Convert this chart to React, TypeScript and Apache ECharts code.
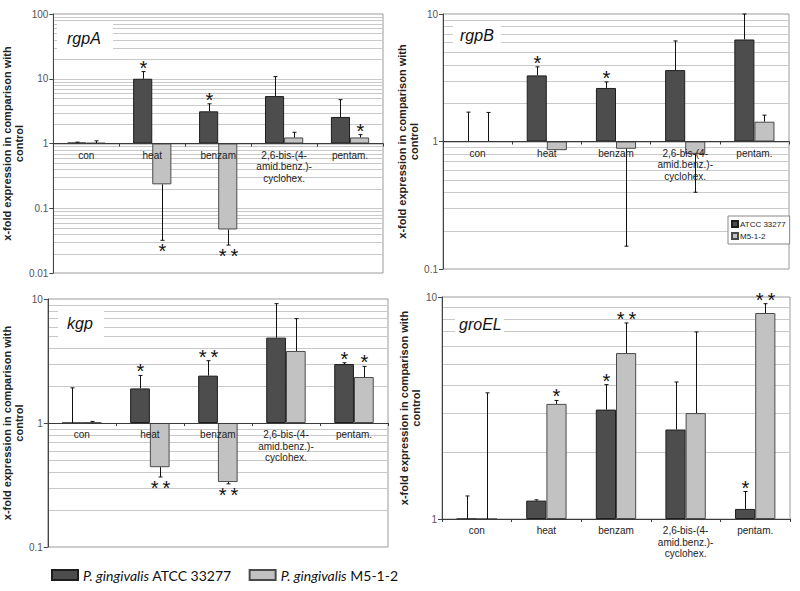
import React, { useEffect, useRef } from 'react';
import * as echarts from 'echarts';

const CATEGORIES = ['con', 'heat', 'benzam', '2,6-bis-(4-\namid.benz.)-\ncyclohex.', 'pentam.'];
const SERIES_NAMES = ['ATCC 33277', 'M5-1-2'];
const GENES = ['rgpA', 'rgpB', 'kgp', 'groEL'];

// rgpA
const rgpA_atcc = [1.03, 10.0, 3.14, 5.4, 2.57];
const rgpA_atccErr = [1.05, 12.9, 4.1, 10.8, 4.75];
const rgpA_atccSig = ['', '*', '*', '', ''];
const rgpA_m5 = [1.02, 0.234, 0.047, 1.24, 1.24];
const rgpA_m5Err = [1.1, 0.032, 0.027, 1.49, 1.37];
const rgpA_m5Sig = ['', '*', '**', '', '*'];
const rgpA_range = [0.01, 100];

// rgpB
const rgpB_atcc = [1.0, 3.3, 2.63, 3.63, 6.31];
const rgpB_atccErr = [1.7, 3.85, 2.93, 6.15, 10.0];
const rgpB_atccSig = ['', '*', '*', '', ''];
const rgpB_m5 = [1.0, 0.855, 0.877, 0.8, 1.43];
const rgpB_m5Err = [1.69, null, 0.151, 0.4, 1.61];
const rgpB_m5Sig = ['', '', '', '', ''];
const rgpB_range = [0.1, 10];

// kgp
const kgp_atcc = [1.0, 1.9, 2.41, 4.88, 2.99];
const kgp_atccErr = [1.92, 2.42, 3.18, 9.17, 3.06];
const kgp_atccSig = ['', '*', '**', '', '*'];
const kgp_m5 = [1.01, 0.44, 0.334, 3.81, 2.35];
const kgp_m5Err = [1.03, 0.367, 0.323, 6.94, 2.86];
const kgp_m5Sig = ['', '**', '**', '', '*'];
const kgp_range = [0.1, 10];

// groEL
const groEL_atcc = [1.0, 1.21, 3.11, 2.53, 1.11];
const groEL_atccErr = [1.27, 1.22, 4.03, 4.14, 1.33];
const groEL_atccSig = ['', '', '*', '', '*'];
const groEL_m5 = [1.0, 3.3, 5.59, 3.0, 8.47];
const groEL_m5Err = [3.7, 3.42, 7.64, 6.96, 9.33];
const groEL_m5Sig = ['', '*', '**', '', '**'];
const groEL_range = [1, 10];

const Y_NAME = 'x-fold expression in comparison with\ncontrol';

const PANEL_DATA = [
  { vals: [rgpA_atcc, rgpA_m5], errs: [rgpA_atccErr, rgpA_m5Err], sigs: [rgpA_atccSig, rgpA_m5Sig], range: rgpA_range },
  { vals: [rgpB_atcc, rgpB_m5], errs: [rgpB_atccErr, rgpB_m5Err], sigs: [rgpB_atccSig, rgpB_m5Sig], range: rgpB_range },
  { vals: [kgp_atcc, kgp_m5], errs: [kgp_atccErr, kgp_m5Err], sigs: [kgp_atccSig, kgp_m5Sig], range: kgp_range },
  { vals: [groEL_atcc, groEL_m5], errs: [groEL_atccErr, groEL_m5Err], sigs: [groEL_atccSig, groEL_m5Sig], range: groEL_range },
];

// layout (pixels)
const GRIDS = [
  { left: 48, top: 14, width: 335, height: 259, nameGap: 16 },
  { left: 443, top: 14, width: 346, height: 255, nameGap: 11 },
  { left: 41, top: 299, width: 347, height: 248, nameGap: 9 },
  { left: 442, top: 297, width: 348, height: 222, nameGap: 11 },
];
const TITLE_BOX = [
  { x: 57, y: 22, w: 56, h: 27, tx: 67, ty: 38 },
  { x: 453, y: 21, w: 48, h: 29, tx: 460, ty: 35 },
  { x: 58, y: 308, w: 46, h: 29, tx: 67, ty: 323 },
  { x: 455, y: 311, w: 49, h: 27, tx: 459, ty: 324 },
];

const BAR_W = 0.29;
const COLORS = ['#4d4d4d', '#c2c2c2'];
const BORDERS = ['#1e1e1e', '#4a4a4a'];
const FONT = '"Liberation Sans", Arial, sans-serif';

function gridValues(range: number[]) {
  const out: number[] = [];
  const lo = Math.round(Math.log10(range[0]));
  const hi = Math.round(Math.log10(range[1]));
  for (let e = lo; e < hi; e++) {
    for (let k = 1; k <= 9; k++) {
      const v = k * Math.pow(10, e);
      if (v > range[0]) out.push(v);
    }
  }
  return out;
}

export default function App() {
  const ref = useRef<HTMLDivElement>(null);
  useEffect(() => {
    if (!ref.current) return;
    const chart = echarts.init(ref.current, undefined, { renderer: 'svg' });

    const grid: any[] = [];
    const xAxis: any[] = [];
    const yAxis: any[] = [];
    const series: any[] = [];
    const graphic: any[] = [];

    PANEL_DATA.forEach((p, i) => {
      const g = GRIDS[i];
      grid.push({ left: g.left, top: g.top, width: g.width, height: g.height, show: true, borderColor: '#9a9a9a', borderWidth: 1, backgroundColor: '#fff' });
      const lmin = Math.log10(p.range[0]);
      const lmax = Math.log10(p.range[1]);
      const offset = -g.height * (0 - lmin) / (lmax - lmin);
      xAxis.push({
        type: 'category', gridIndex: i, data: CATEGORIES, position: 'bottom', offset,
        axisLine: { show: true, lineStyle: { color: '#3a3a3a', width: 1 } },
        axisTick: { show: true, length: 3, lineStyle: { color: '#3a3a3a' } },
        axisLabel: { fontSize: 10, color: '#222', fontFamily: FONT, margin: 6, lineHeight: 11.5, interval: 0 },
        z: 6,
      });
      yAxis.push({
        type: 'log', logBase: 10, gridIndex: i, min: p.range[0], max: p.range[1],
        name: Y_NAME, nameLocation: 'middle', nameGap: g.nameGap,
        nameTextStyle: { fontSize: 11, fontWeight: 'bold', fontFamily: FONT, color: '#222', lineHeight: 12 },
        axisLine: { show: true, lineStyle: { color: '#444' } },
        axisTick: { show: true, length: 4, lineStyle: { color: '#444' } },
        axisLabel: { fontSize: 10, color: '#555', fontFamily: FONT, margin: 5, formatter: (v: number) => String(v) },
        splitLine: { show: false },
      });
      // gridlines
      const gv = gridValues(p.range);
      series.push({
        type: 'custom', xAxisIndex: i, yAxisIndex: i, z: 0, silent: true,
        data: gv.map((v) => [0, v]),
        renderItem: (params: any, api: any) => {
          const cs = params.coordSys;
          const y = Math.round(api.coord([0, api.value(1)])[1]) + 0.5;
          return { type: 'line', shape: { x1: cs.x, y1: y, x2: cs.x + cs.width, y2: y }, style: { stroke: '#c9c9c9', lineWidth: 1 } };
        },
      });
      // bars
      [0, 1].forEach((s) => {
        series.push({
          type: 'bar', name: SERIES_NAMES[s], xAxisIndex: i, yAxisIndex: i,
          data: p.vals[s], barWidth: (BAR_W * 100) + '%', barGap: '0%', z: 2,
          itemStyle: { color: COLORS[s], borderColor: BORDERS[s], borderWidth: 1 },
        });
      });
      // error bars + significance
      series.push({
        type: 'custom', xAxisIndex: i, yAxisIndex: i, z: 4, silent: true,
        data: CATEGORIES.map((_, j) => [j]),
        renderItem: (params: any, api: any) => {
          const j = params.dataIndex;
          const cs = params.coordSys;
          const catW = cs.width / CATEGORIES.length;
          const children: any[] = [];
          [0, 1].forEach((s) => {
            const xc = Math.round(api.coord([j, 1])[0] + (s === 0 ? -1 : 1) * catW * BAR_W / 2) + 0.5;
            const v = p.vals[s][j];
            const e = p.errs[s][j];
            const y1 = api.coord([j, v])[1];
            let yEnd = y1;
            if (e != null) {
              const y2 = api.coord([j, e])[1];
              yEnd = y2;
              children.push({ type: 'line', shape: { x1: xc, y1, x2: xc, y2 }, style: { stroke: '#111', lineWidth: 1 } });
              children.push({ type: 'line', shape: { x1: xc - 2, y1: y2, x2: xc + 2, y2 }, style: { stroke: '#111', lineWidth: 1 } });
            }
            const sig = p.sigs[s][j];
            if (sig) {
              const up = v >= 1;
              children.push({
                type: 'text',
                style: {
                  x: xc, y: up ? yEnd + 6 : yEnd + 1,
                  text: sig.split('').join('\u2009'),
                  fontSize: 20, fontFamily: FONT, fill: '#111',
                  align: 'center', verticalAlign: up ? 'bottom' : 'top',
                },
              });
            }
          });
          return { type: 'group', children };
        },
      });
      // title
      const t = TITLE_BOX[i];
      graphic.push({ type: 'rect', shape: { x: t.x, y: t.y, width: t.w, height: t.h }, style: { fill: '#fff' }, z: 100 });
      graphic.push({ type: 'text', x: t.tx, y: t.ty, style: { text: GENES[i], fontSize: 16, fontStyle: 'italic', fontFamily: FONT, fill: '#111', verticalAlign: 'middle' }, z: 101 });
    });

    chart.setOption({
      animation: false,
      backgroundColor: '#fff',
      grid, xAxis, yAxis, series, graphic,
      legend: [
        {
          data: SERIES_NAMES, left: 46, top: 563, orient: 'horizontal', itemWidth: 26, itemHeight: 10, itemGap: 17,
          icon: 'rect', selectedMode: false,
          formatter: (name: string) => '{i|P. gingivalis} ' + name,
          textStyle: { fontSize: 14, fontFamily: 'Lato, sans-serif', color: '#111', rich: { i: { fontStyle: 'italic', fontSize: 14, fontFamily: 'Lato, sans-serif', color: '#111' } } },
        },
        {
          data: SERIES_NAMES, left: 728, top: 216, orient: 'vertical', itemWidth: 6, itemHeight: 6, itemGap: 4,
          icon: 'rect', selectedMode: false, padding: [4, 4, 4, 3], borderColor: '#888', borderWidth: 1, backgroundColor: '#fff',
          textStyle: { fontSize: 8, fontFamily: FONT, color: '#222', padding: [0, 0, 0, -3] },
        },
      ],
    });
    return () => chart.dispose();
  }, []);
  return <div ref={ref} style={{ position: 'fixed', left: 0, top: 0, width: 800, height: 591 }} />;
}
